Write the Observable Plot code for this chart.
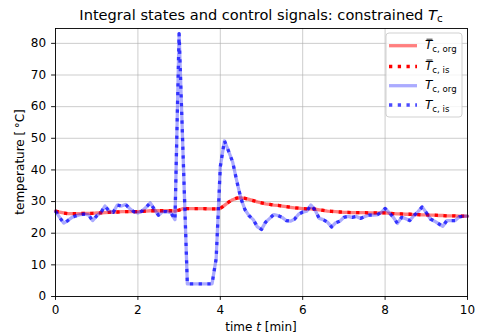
<!DOCTYPE html>
<html><head><meta charset="utf-8">
<script src="https://cdn.jsdelivr.net/npm/d3@7"></script>
<script src="https://cdn.jsdelivr.net/npm/@observablehq/plot@0.6"></script>
<style>body{margin:0;background:#fff} svg{font-family:"DejaVu Sans",sans-serif}</style>
</head><body><div id="chart"></div>
<script>
// time grid [min], one sample every 0.1 min
const timeMin = d3.range(101).map(i => i / 10);

// control signal T_c (org and is overlap exactly)
const tcOrg = [
  27.0, 25.0, 23.2, 24.0, 25.0, 25.5, 25.9, 26.0, 25.8, 24.0,
  25.5, 26.5, 28.6, 27.0, 26.6, 28.9, 28.6, 29.1, 27.8, 26.8,
  26.4, 27.0, 28.2, 29.6, 27.5, 25.7, 26.8, 26.8, 26.5, 24.3,
  83.1, 43.5, 4.0, 4.0, 4.0, 4.0, 4.0, 4.0, 4.0, 12.0,
  41.0, 49.2, 46.0, 42.5, 36.5, 31.0, 27.4, 25.5, 24.3, 22.0,
  21.2, 23.5, 24.7, 25.9, 25.6, 25.0, 24.0, 23.8, 24.4, 26.0,
  26.7, 27.0, 28.9, 27.3, 24.7, 24.3, 23.5, 22.0, 23.3, 23.8,
  25.0, 25.3, 25.0, 25.3, 24.7, 25.2, 25.7, 25.7, 25.8, 26.5,
  27.8, 26.5, 25.0, 23.1, 25.0, 24.6, 24.0, 25.6, 26.8, 28.3,
  26.5, 24.5, 23.8, 23.0, 22.2, 24.0, 24.0, 24.0, 25.2, 25.4,
  25.4
];
const tcIs = tcOrg;

// integral state T̄_c (org and is overlap exactly)
const tcBarOrg = [
  27.0, 26.7, 26.4, 26.2, 26.2, 26.2, 26.2, 26.3, 26.3, 26.3,
  26.4, 26.4, 26.5, 26.6, 26.7, 26.7, 26.8, 26.8, 26.8, 26.8,
  26.8, 26.9, 27.0, 27.1, 27.1, 27.1, 27.1, 27.1, 27.1, 27.0,
  27.3, 27.8, 27.8, 27.8, 27.8, 27.8, 27.8, 27.7, 27.7, 27.7,
  27.8, 28.8, 29.8, 30.6, 31.1, 31.2, 31.0, 30.7, 30.3, 29.9,
  29.6, 29.3, 29.1, 28.9, 28.8, 28.6, 28.4, 28.2, 28.0, 27.9,
  27.8, 27.7, 27.7, 27.6, 27.4, 27.2, 27.0, 26.9, 26.8, 26.7,
  26.6, 26.6, 26.5, 26.5, 26.5, 26.5, 26.4, 26.4, 26.4, 26.4,
  26.4, 26.3, 26.2, 26.1, 26.1, 26.0, 26.0, 25.9, 25.9, 25.8,
  25.8, 25.7, 25.7, 25.6, 25.6, 25.5, 25.5, 25.5, 25.4, 25.4,
  25.4
];
const tcBarIs = tcBarOrg;

const xTicks = [0, 2, 4, 6, 8, 10];
const yTicks = [0, 10, 20, 30, 40, 50, 60, 70, 80];

const rows = (arr) => arr.map((v, i) => ({t: timeMin[i], v}));

const LW = 3.3;
const dots = `${LW},${(LW*1.65).toFixed(2)}`;
const FS = 12;

const chart = Plot.plot({
  width: 480, height: 336,
  marginLeft: 55, marginRight: 13, marginTop: 28, marginBottom: 40,
  x: {domain: [0, 10]},
  y: {domain: [0, 84.7]},
  style: {fontFamily: "DejaVu Sans", fontSize: FS + "px", color: "black", background: "white"},
  marks: [
    Plot.gridX(xTicks, {stroke: "#b0b0b0", strokeOpacity: 0.7, strokeWidth: 0.9}),
    Plot.gridY(yTicks, {stroke: "#b0b0b0", strokeOpacity: 0.7, strokeWidth: 0.9}),
    Plot.line(rows(tcBarOrg), {x: "t", y: "v", stroke: "red", strokeOpacity: 0.5, strokeWidth: LW}),
    Plot.line(rows(tcBarIs), {x: "t", y: "v", stroke: "red", strokeWidth: LW, strokeDasharray: dots, strokeLinecap: "butt"}),
    Plot.line(rows(tcOrg), {x: "t", y: "v", stroke: "blue", strokeOpacity: 0.33, strokeWidth: LW}),
    Plot.line(rows(tcIs), {x: "t", y: "v", stroke: "blue", strokeOpacity: 0.7, strokeWidth: LW, strokeDasharray: dots, strokeLinecap: "butt"}),
    Plot.frame({stroke: "black", strokeWidth: 0.9}),
    Plot.axisX({ticks: xTicks, tickSize: 3.9, tickPadding: 5, label: null, strokeWidth: 0.9, fontSize: FS}),
    Plot.axisY({ticks: yTicks, tickSize: 3.9, tickPadding: 5.5, label: null, strokeWidth: 0.9, fontSize: FS})
  ]
});
document.getElementById("chart").appendChild(chart);

const svg = d3.select(chart);
// title
const title = svg.append("text").attr("x", 261).attr("y", 19.5).attr("text-anchor", "middle")
  .attr("font-size", 14.6).attr("fill", "black");
title.append("tspan").text("Integral states and control signals: constrained ");
title.append("tspan").attr("font-style", "italic").text("T");
title.append("tspan").attr("font-size", 10.4).attr("dy", 2.5).text("c");

// axis labels
const xl = svg.append("text").attr("x", 261).attr("y", 330.5).attr("text-anchor", "middle")
  .attr("font-size", FS).attr("fill", "black");
xl.append("tspan").text("time ");
xl.append("tspan").attr("font-style", "italic").text("t");
xl.append("tspan").text(" [min]");
svg.append("text").attr("transform", "translate(23.5,162) rotate(-90)").attr("text-anchor", "middle")
  .attr("font-size", FS).attr("fill", "black").text("temperature [\u2009\u00b0C]");

// legend
const lg = svg.append("g");
lg.append("rect").attr("x", 386).attr("y", 33).attr("width", 76).attr("height", 84).attr("rx", 3)
  .attr("fill", "white").attr("fill-opacity", 0.8).attr("stroke", "#cccccc").attr("stroke-width", 0.9);
const entries = [
  {y: 45.7, color: "red", op: 0.5, dash: null, bar: true, sub: "c, org"},
  {y: 66.5, color: "red", op: 1, dash: dots, bar: true, sub: "c, is"},
  {y: 85.7, color: "blue", op: 0.33, dash: null, bar: false, sub: "c, org"},
  {y: 105, color: "blue", op: 0.7, dash: dots, bar: false, sub: "c, is"}
];
for (const e of entries) {
  const ln = lg.append("line").attr("x1", 389).attr("x2", 417).attr("y1", e.y).attr("y2", e.y)
    .attr("stroke", e.color).attr("stroke-opacity", e.op).attr("stroke-width", LW);
  if (e.dash) ln.attr("stroke-dasharray", e.dash);
  const tx = lg.append("text").attr("x", 425).attr("y", e.y + 3.5).attr("text-anchor", "start")
    .attr("font-size", FS).attr("fill", "black");
  tx.append("tspan").attr("font-style", "italic").text("T");
  tx.append("tspan").attr("font-size", 8.6).attr("dy", 3).text(e.sub);
  if (e.bar) {
    lg.append("line").attr("x1", 426.5).attr("x2", 432.5).attr("y1", e.y - 6.5).attr("y2", e.y - 6.5)
      .attr("stroke", "black").attr("stroke-width", 0.8);
  }
}
</script></body></html>
